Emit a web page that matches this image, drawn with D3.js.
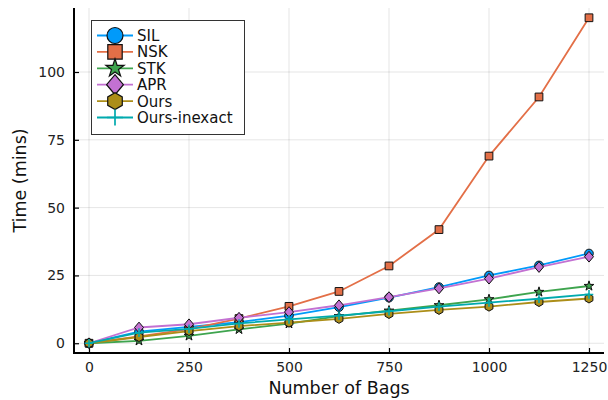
<!DOCTYPE html>
<html>
<head>
<meta charset="utf-8">
<script src="https://cdn.jsdelivr.net/npm/d3@7"></script>
<style>
  html, body { margin: 0; padding: 0; background: #fff; }
  svg { display: block; font-family: "DejaVu Sans", sans-serif; }
</style>
</head>
<body>
<svg id="chart" width="608" height="400"></svg>
<script>
// Runtime (minutes) against number of bags for each method
const bags = [0, 125, 250, 375, 500, 625, 750, 875, 1000, 1125, 1250];
const silTimes = [0, 4.3, 6.0, 7.8, 10.2, 13.3, 16.8, 20.7, 25.0, 28.7, 33.1];
const nskTimes = [0, 2.5, 5.2, 9.1, 13.6, 19.1, 28.5, 41.9, 69.0, 90.8, 120.0];
const stkTimes = [0, 0.9, 2.7, 5.1, 7.2, 10.0, 12.0, 14.0, 16.2, 18.9, 21.1];
const aprTimes = [0, 5.8, 7.0, 9.4, 11.5, 14.0, 17.0, 20.2, 23.8, 28.1, 31.9];
const oursTimes = [0, 2.3, 4.5, 6.3, 7.6, 9.0, 10.8, 12.3, 13.5, 15.2, 16.5];
const oursInexactTimes = [0, 3.9, 5.3, 7.3, 8.8, 10.2, 11.8, 13.5, 15.0, 16.4, 18.0];

const seriesNames = ["SIL", "NSK", "STK", "APR", "Ours", "Ours-inexact"];
const seriesValues = [silTimes, nskTimes, stkTimes, aprTimes, oursTimes, oursInexactTimes];
const seriesColors = ["#009AFA", "#E36F47", "#3EA44E", "#C371D2", "#AC8E18", "#00AAAE"];
const seriesMarkers = ["circle", "square", "star", "diamond", "hexagon", "cross"];

const xTicks = [0, 250, 500, 750, 1000, 1250];
const yTicks = [0, 25, 50, 75, 100];

const svg = d3.select("#chart");
const plotLeft = 74, plotRight = 604, plotTop = 8, plotBottom = 353;

const x = d3.scaleLinear().domain([-37.5, 1287.5]).range([plotLeft, plotRight]);
const y = d3.scaleLinear().domain([-3.6, 123.6]).range([plotBottom, plotTop]);

// grid
const grid = svg.append("g");
grid.selectAll("line.gx").data(xTicks).join("line")
  .attr("x1", d => x(d)).attr("x2", d => x(d))
  .attr("y1", plotTop).attr("y2", plotBottom)
  .attr("stroke", "#000").attr("stroke-opacity", 0.1).attr("stroke-width", 1);
grid.selectAll("line.gy").data(yTicks).join("line")
  .attr("x1", plotLeft).attr("x2", plotRight)
  .attr("y1", d => y(d)).attr("y2", d => y(d))
  .attr("stroke", "#000").attr("stroke-opacity", 0.1).attr("stroke-width", 1);

// axes (ticks point into the plot area)
const xAxis = d3.axisBottom(x).tickValues(xTicks).tickSize(-5).tickPadding(9).tickFormat(d3.format("d"));
const yAxis = d3.axisLeft(y).tickValues(yTicks).tickSize(-5).tickPadding(9).tickFormat(d3.format("d"));

const gx = svg.append("g").attr("transform", `translate(0,${plotBottom})`).call(xAxis);
const gy = svg.append("g").attr("transform", `translate(${plotLeft},0)`).call(yAxis);
[gx, gy].forEach(g => {
  g.select(".domain").remove();
  g.selectAll(".tick line").attr("stroke", "#000").attr("stroke-width", 1.2);
  g.selectAll(".tick text").attr("fill", "#222").style("font-size", "14px")
    .style("font-family", "DejaVu Sans, sans-serif");
});
svg.append("line").attr("x1", plotLeft).attr("x2", plotRight).attr("y1", plotBottom).attr("y2", plotBottom)
  .attr("stroke", "#000").attr("stroke-width", 2);
svg.append("line").attr("x1", plotLeft).attr("x2", plotLeft).attr("y1", plotTop).attr("y2", plotBottom + 1)
  .attr("stroke", "#000").attr("stroke-width", 2);

// axis titles
svg.append("text").attr("x", (plotLeft + plotRight) / 2).attr("y", 394)
  .attr("text-anchor", "middle").style("font-size", "17.5px").attr("fill", "#111")
  .text("Number of Bags");
svg.append("text").attr("transform", `translate(26,${(plotTop + plotBottom) / 2}) rotate(-90)`)
  .attr("text-anchor", "middle").style("font-size", "17.5px").attr("fill", "#111")
  .text("Time (mins)");

// marker shapes
function hexPath(r) {
  const pts = d3.range(6).map(i => {
    const a = Math.PI / 2 + i * Math.PI / 3;
    return [r * Math.cos(a), r * Math.sin(a)];
  });
  return "M" + pts.map(p => p.join(",")).join("L") + "Z";
}
function markerPath(kind, r) {
  switch (kind) {
    case "circle": return d3.symbol(d3.symbolCircle, Math.PI * r * r)();
    case "square": return d3.symbol(d3.symbolSquare, (1.8 * r) * (1.8 * r))();
    case "star": return d3.symbol(d3.symbolStar, 1.6 * r * r)();
    case "diamond": {
      const w = r * 1.05, h = r * 1.25;
      return `M0,${-h}L${w},0L0,${h}L${-w},0Z`;
    }
    case "hexagon": return hexPath(r * 1.05);
    case "cross": return `M${-r},0L${r},0M0,${-r}L0,${r}`;
  }
}
function drawMarker(g, kind, color, cx, cy, r, sw) {
  const p = g.append("path").attr("d", markerPath(kind, r))
    .attr("transform", `translate(${cx},${cy})`);
  if (kind === "cross") {
    p.attr("fill", "none").attr("stroke", color).attr("stroke-width", sw + 0.5);
  } else {
    p.attr("fill", color).attr("stroke", "#111").attr("stroke-width", sw);
  }
}

// series: line first, then its markers
const line = d3.line().x((d, i) => x(bags[i])).y(d => y(d));
const plot = svg.append("g");
seriesValues.forEach((vals, s) => {
  const g = plot.append("g");
  g.append("path").attr("d", line(vals)).attr("fill", "none")
    .attr("stroke", seriesColors[s]).attr("stroke-width", 1.8);
  vals.forEach((v, i) => drawMarker(g, seriesMarkers[s], seriesColors[s], x(bags[i]), y(v), 4.3, 1));
});

// legend
const lg = svg.append("g");
lg.append("rect").attr("x", 91.5).attr("y", 20.5).attr("width", 153).attr("height", 114)
  .attr("fill", "#fff").attr("stroke", "#333").attr("stroke-width", 1);
seriesNames.forEach((name, s) => {
  const cy = 35.5 + s * 16.4;
  lg.append("line").attr("x1", 97).attr("x2", 133).attr("y1", cy).attr("y2", cy)
    .attr("stroke", seriesColors[s]).attr("stroke-width", 1.8);
  drawMarker(lg, seriesMarkers[s], seriesColors[s], 115, cy, 8, 1.2);
  lg.append("text").attr("x", 137).attr("y", cy).attr("dy", "0.36em")
    .style("font-size", "15px").attr("fill", "#111").text(name);
});
</script>
</body>
</html>
